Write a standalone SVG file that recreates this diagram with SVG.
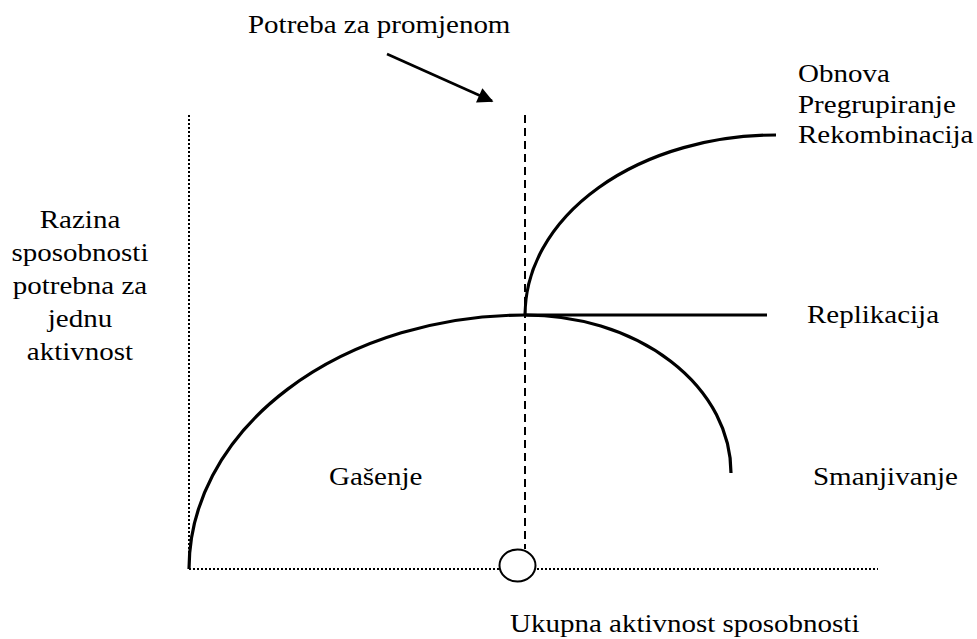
<svg xmlns="http://www.w3.org/2000/svg" width="977" height="639" viewBox="0 0 977 639">
<style>
.t{font-family:"Liberation Serif","Times New Roman",serif;font-size:25px;fill:#000}
.c{fill:none;stroke:#000;stroke-width:3.2;stroke-linecap:butt}
.dot{fill:none;stroke:#000;stroke-width:2;stroke-dasharray:2 2}
.dash{fill:none;stroke:#000;stroke-width:2;stroke-dasharray:8 5}
</style>
<defs>
<marker id="ah" viewBox="0 0 10 10" refX="9" refY="5" markerWidth="6.5" markerHeight="6" markerUnits="strokeWidth" orient="auto">
<path d="M0,0 L10,5 L0,10 z" fill="#000"/>
</marker>
</defs>
<rect width="977" height="639" fill="#fff"/>
<g id="axes">
<line class="dot" x1="189" y1="115" x2="189" y2="569"/>
<line class="dot" x1="189" y1="569" x2="878" y2="569"/>
<line class="dash" x1="525" y1="115" x2="525" y2="549"/>
</g>
<g id="connectors">
<path class="c" d="M189,569 A336,254 0 0 1 525,315"/>
<path class="c" d="M525,315 A251,180 0 0 1 776,135"/>
<line class="c" x1="525" y1="315" x2="767" y2="315"/>
<path class="c" d="M525,315 A206,158 0 0 1 731,473"/>
<line x1="387" y1="54" x2="492" y2="101" stroke="#000" stroke-width="2.6" marker-end="url(#ah)"/>
</g>
<g id="circle">
<ellipse cx="517.5" cy="565.5" rx="18" ry="16" fill="#fff" stroke="#000" stroke-width="2"/>
</g>
<g id="label-potreba"><text class="t" transform="translate(248 33) scale(1.16 1)">Potreba za promjenom</text></g>
<g id="label-obnova">
<text class="t" transform="translate(798 82) scale(1.16 1)">Obnova</text>
<text class="t" transform="translate(798 113) scale(1.16 1)">Pregrupiranje</text>
<text class="t" transform="translate(798 143) scale(1.16 1)">Rekombinacija</text>
</g>
<g id="label-razina">
<text class="t" text-anchor="middle" transform="translate(80 228) scale(1.16 1)">Razina</text>
<text class="t" text-anchor="middle" transform="translate(80 261) scale(1.16 1)">sposobnosti</text>
<text class="t" text-anchor="middle" transform="translate(80 294) scale(1.16 1)">potrebna za</text>
<text class="t" text-anchor="middle" transform="translate(80 327) scale(1.16 1)">jednu</text>
<text class="t" text-anchor="middle" transform="translate(80 360) scale(1.16 1)">aktivnost</text>
</g>
<g id="label-replikacija"><text class="t" transform="translate(807 323) scale(1.16 1)">Replikacija</text></g>
<g id="label-gasenje"><text class="t" transform="translate(329 485) scale(1.16 1)">Gašenje</text></g>
<g id="label-smanjivanje"><text class="t" transform="translate(813 485) scale(1.16 1)">Smanjivanje</text></g>
<g id="label-ukupna"><text class="t" transform="translate(510 632) scale(1.16 1)">Ukupna aktivnost sposobnosti</text></g>
</svg>
